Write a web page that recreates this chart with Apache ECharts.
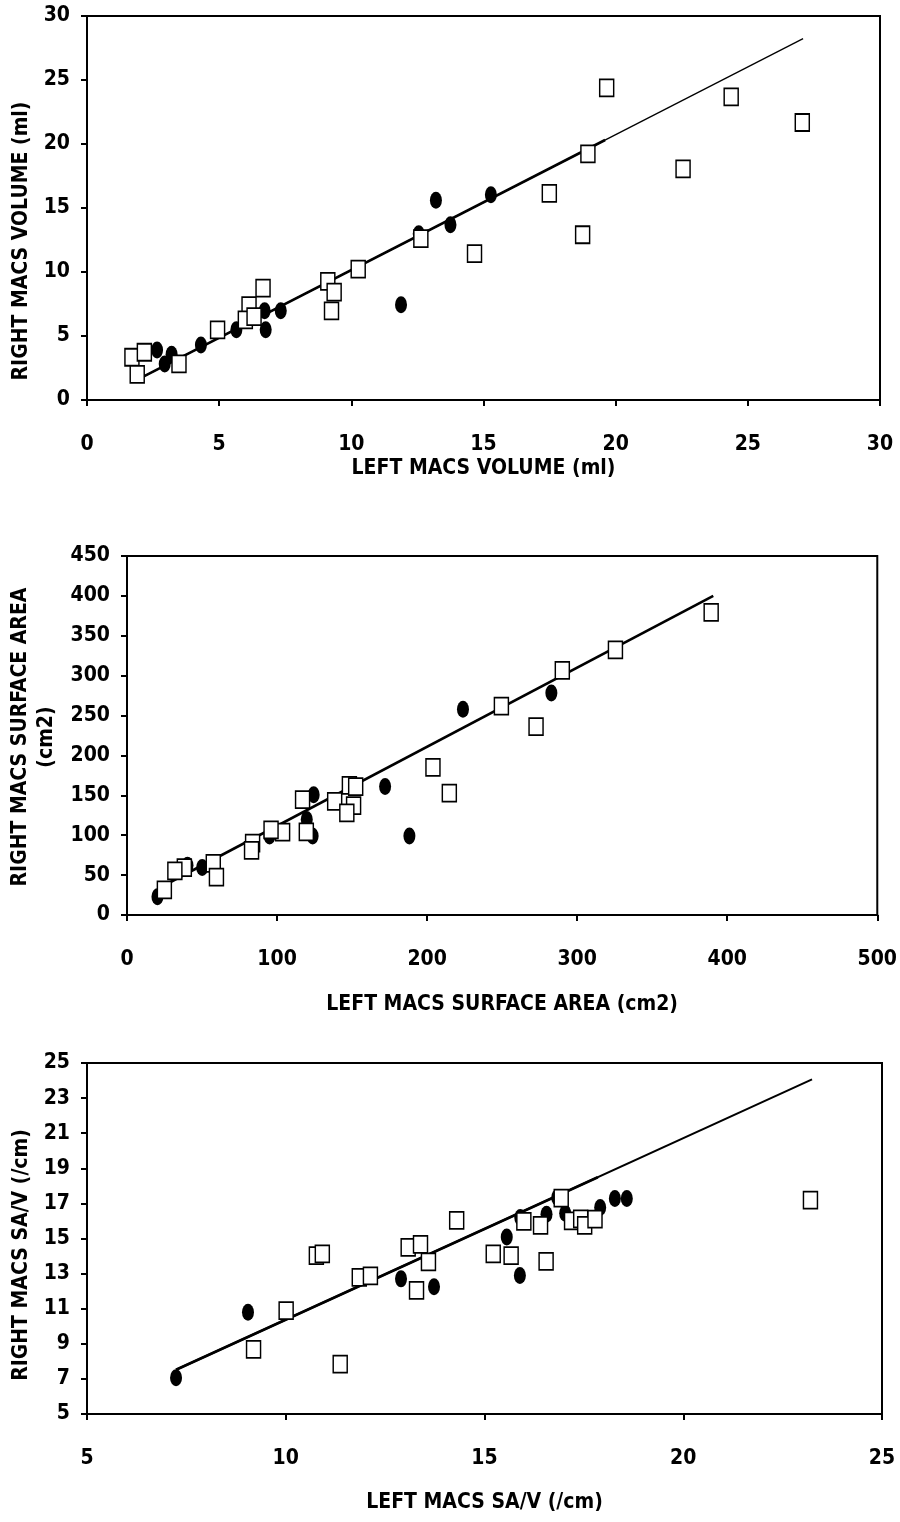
<!DOCTYPE html>
<html>
<head>
<meta charset="utf-8">
<script src="https://cdn.jsdelivr.net/npm/echarts@6/dist/echarts.min.js"></script>
<style>
html,body{margin:0;padding:0;background:#fff;}
#c{width:900px;height:1522px;}
</style>
</head>
<body>
<div id="c"></div>
<script>
// ---- Chart 1: volume (ml) ----
const volCircles = [[2.65,3.91],[3.2,3.57],[2.94,2.82],[4.31,4.3],[5.65,5.48],[6.72,6.97],[7.33,6.97],[6.76,5.48],[11.88,7.44],[12.55,12.99],[13.2,15.6],[13.75,13.7],[15.28,16.04]];
const volSquares = [[1.7,3.34],[2.17,3.73],[1.9,2.01],[3.48,2.82],[4.94,5.48],[6.13,7.38],[5.99,6.26],[6.32,6.52],[6.66,8.74],[9.11,9.26],[9.35,8.43],[9.25,6.97],[10.26,10.23],[12.63,12.6],[14.66,11.43],[17.49,16.15],[18.75,12.91],[18.95,19.23],[19.66,24.39],[22.55,18.05],[24.37,23.69],[27.06,21.68]];
const volFitAll = [[2.13,1.83],[27.09,28.23]];
const volFitPart = [[2.13,1.83],[19.6,20.31]];

// ---- Chart 2: surface area (cm2) ----
const areaCircles = [[20.3,22.8],[40.3,62.3],[50.1,59.4],[95,98.9],[119.8,119.6],[123.7,98.9],[124.4,150.8],[172,161.2],[188.2,98.9],[223.9,258],[282.8,278.4]];
const areaSquares = [[389.3,379.3],[325.5,332.4],[290.1,306.6],[249.5,261.7],[272.6,236],[203.9,184.9],[214.8,152.9],[148.2,162.4],[152.4,161],[138.4,142.5],[117,144.6],[151,137.1],[146.5,128],[119.5,104.3],[103.7,103.9],[96,106.8],[83.7,90],[83,81],[57.5,64.8],[59.6,47.4],[38.2,59.4],[31.9,55.3],[24.9,31.6]];
const areaFit = [[22.1,34.5],[390.7,400]];

// ---- Chart 3: SA/V (/cm) ----
const savCircles = [[7.24,7.06],[9.05,10.8],[12.9,12.7],[13.73,12.25],[15.56,15.09],[15.89,12.89],[15.9,16.2],[16.56,16.38],[16.83,17.34],[17.03,16.44],[17.91,16.76],[18.28,17.28],[18.58,17.28]];
const savSquares = [[9.19,8.68],[10.01,10.89],[10.77,14.03],[10.92,14.12],[11.37,7.84],[11.85,12.79],[12.13,12.87],[13.08,14.5],[13.39,14.66],[13.29,12.05],[13.59,13.67],[14.3,16.03],[15.22,14.12],[15.67,14.03],[15.99,15.97],[16.41,15.75],[16.55,13.69],[16.93,17.3],[17.19,16.01],[17.42,16.12],[17.52,15.75],[17.78,16.1],[23.2,17.19]];
const savFitAll = [[7.24,7.52],[23.24,24.07]];
const savFitPart = [[7.24,7.52],[17.85,18.49]];

// ---- axis labels / ranges ----
const xTitles = ['LEFT MACS VOLUME (ml)','LEFT MACS SURFACE AREA (cm2)','LEFT MACS SA/V (/cm)'];
const yTitles = ['RIGHT MACS VOLUME (ml)','RIGHT MACS SURFACE AREA\n(cm2)','RIGHT MACS SA/V (/cm)'];
const xRanges = [[0,30,5],[0,500,100],[5,25,5]];
const yRanges = [[0,30,5],[0,450,50],[5,25,2]];

const FONT = '"Liberation Sans Narrow","DejaVu Sans Condensed","Liberation Sans",sans-serif';
const grids = [
  {left:87, top:16, width:793, height:384},
  {left:127, top:556, width:751, height:359},
  {left:87, top:1063, width:795, height:351}
];
const xNameGaps = [55, 77, 76];
const yTitlePos = [[22,241],[34,737],[22,1255]];

function axisCommon(r){
  return {
    min:r[0], max:r[1], interval:r[2],
    axisLine:{show:true,onZero:false,lineStyle:{color:'#000',width:2}},
    axisTick:{show:true,inside:false,length:6,lineStyle:{color:'#000',width:2}},
    splitLine:{show:false},
    axisLabel:{color:'#000',fontFamily:FONT,fontWeight:'bold',fontSize:21},
    nameLocation:'middle',
    nameTextStyle:{color:'#000',fontFamily:FONT,fontWeight:'bold',fontSize:21,lineHeight:26}
  };
}

const option = {
  backgroundColor:'#fff',
  animation:false,
  grid: grids.map(g=>Object.assign({show:true,borderColor:'#000',borderWidth:2,backgroundColor:'transparent'},g)),
  xAxis: xRanges.map((r,i)=>{
    const a = axisCommon(r);
    a.type='value'; a.gridIndex=i; a.name=xTitles[i]; a.nameGap=xNameGaps[i];
    a.axisLabel.margin=34;
    return a;
  }),
  yAxis: yRanges.map((r,i)=>{
    const a = axisCommon(r);
    a.type='value'; a.gridIndex=i;
    a.axisLabel.margin=17;
    return a;
  }),
  graphic: yTitles.map((t,i)=>({
    type:'text', x:yTitlePos[i][0], y:yTitlePos[i][1], rotation:Math.PI/2,
    style:{text:t, fill:'#000', font:'bold 21px '+FONT, align:'center', verticalAlign:'middle', lineHeight:26}
  })),
  series: []
};

const sets = [
  {c:volCircles,s:volSquares,lines:[[volFitAll,1.3],[volFitPart,2.6]]},
  {c:areaCircles,s:areaSquares,lines:[[areaFit,2.6]]},
  {c:savCircles,s:savSquares,lines:[[savFitAll,2],[savFitPart,2.8]]}
];
sets.forEach((d,i)=>{
  d.lines.forEach(l=>{
    option.series.push({type:'line',xAxisIndex:i,yAxisIndex:i,data:l[0],symbol:'none',
      lineStyle:{color:'#000',width:l[1],opacity:1},z:1,silent:true});
  });
  option.series.push({type:'scatter',xAxisIndex:i,yAxisIndex:i,data:d.c,symbol:'circle',symbolSize:[12,17],
    itemStyle:{color:'#000',opacity:1},z:2});
  option.series.push({type:'scatter',xAxisIndex:i,yAxisIndex:i,data:d.s,symbol:'rect',symbolSize:[14,17],
    itemStyle:{color:'#fff',borderColor:'#000',borderWidth:1.6,opacity:1},z:3});
});

const chart = echarts.init(document.getElementById('c'),null,{renderer:'canvas'});
chart.setOption(option);
</script>
</body>
</html>
